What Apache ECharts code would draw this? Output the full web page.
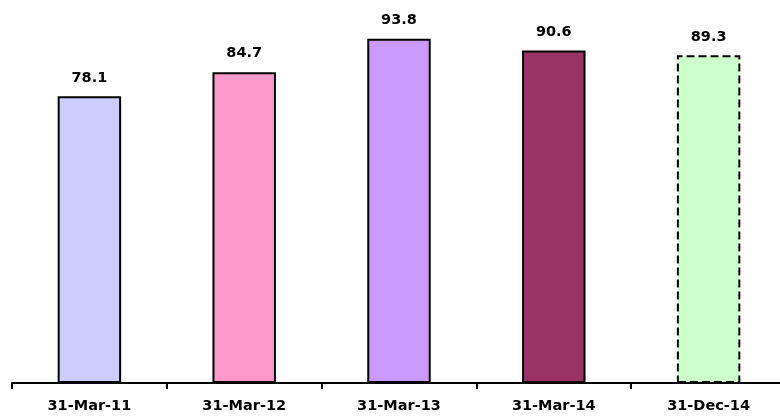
<!DOCTYPE html>
<html>
<head>
<meta charset="utf-8">
<script src="https://cdn.jsdelivr.net/npm/echarts@6/dist/echarts.min.js"></script>
<style>html,body{margin:0;padding:0;background:#fff}#c{width:780px;height:417px}</style>
</head>
<body>
<div id="c"></div>
<script>
const categories = ['31-Mar-11', '31-Mar-12', '31-Mar-13', '31-Mar-14', '31-Dec-14'];
const values = [78.1, 84.7, 93.8, 90.6, 89.3];
const colors = ['#CCCCFF', '#FF99CC', '#CC99FF', '#993366', '#CCFFCC'];
const borderTypes = ['solid', 'solid', 'solid', 'solid', 'dashed'];

const chart = echarts.init(document.getElementById('c'));
chart.setOption({
  animation: false,
  grid: { left: 12, top: 16, bottom: 34, right: -6, outerBoundsMode: 'none', containLabel: false },
  xAxis: {
    type: 'category',
    data: categories,
    axisLine: { lineStyle: { color: '#000', width: 2 } },
    axisTick: { show: true, length: 6, lineStyle: { color: '#000', width: 2 } },
    axisLabel: { color: '#000', fontFamily: 'DejaVu Sans', fontWeight: 'bold', fontSize: 14.5, margin: 16 }
  },
  yAxis: {
    type: 'value', min: 0, max: 100, show: false, splitLine: { show: false }
  },
  series: [{
    type: 'bar',
    barWidth: '41%',
    data: values.map((v, i) => ({
      value: v,
      itemStyle: { color: colors[i], borderColor: '#000', borderWidth: 2, borderType: borderTypes[i] }
    })),
    label: {
      show: true, position: 'top', distance: 11, color: '#000',
      fontFamily: 'DejaVu Sans', fontWeight: 'bold', fontSize: 14.5,
      formatter: p => p.value.toFixed(1)
    }
  }]
});
</script>
</body>
</html>
